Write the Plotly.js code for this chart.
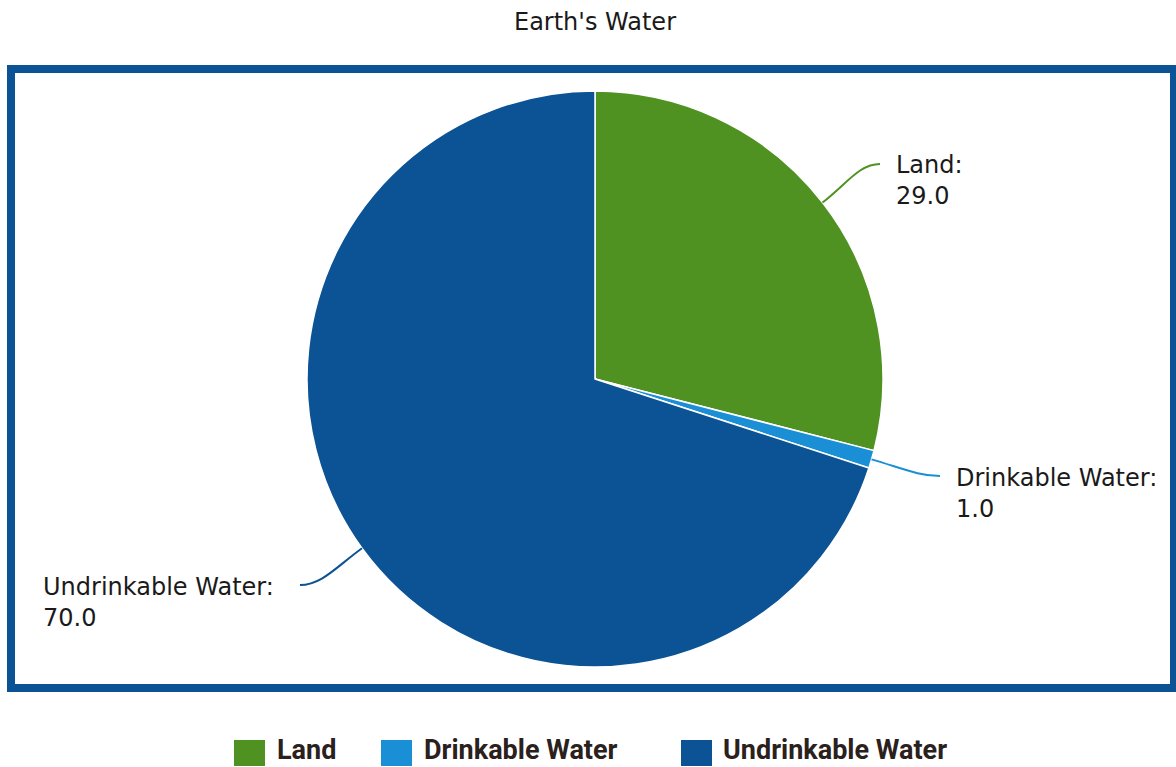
<!DOCTYPE html>
<html>
<head>
<meta charset="utf-8">
<script src="https://cdn.plot.ly/plotly-3.0.1.min.js"></script>
<style>html,body{margin:0;padding:0;background:#fff;}#chart{width:1176px;height:767px;}</style>
</head>
<body>
<div id="chart"></div>
<script>
// ---- data ----
const categories = ["Land", "Drinkable Water", "Undrinkable Water"];
const values = [29.0, 1.0, 70.0];
const sliceColors = ["#4f9222", "#1a8fd6", "#0b5394"];
const chartTitle = "Earth's Water";

// ---- layout constants (pixels) ----
const W = 1176, H = 767;
const cx = 595, cy = 379, R = 288;
// leader-line end points and label placement (style/position only)
const labelEnds = [[880, 164], [940, 476], [300, 585]];
const labelSide = ["left", "left", "right"];
const legendPos = [[234, 278], [381, 425], [681, 724]];
const legendY = 753;

const X = px => px / W;
const Y = py => 1 - py / H;

const total = values.reduce((a, b) => a + b, 0);
const shapes = [];
const annotations = [];

// frame around chart area
shapes.push({type: "rect", xref: "paper", yref: "paper",
  x0: X(11), x1: X(1174), y0: Y(69), y1: Y(688),
  line: {color: "#0b5394", width: 8}, fillcolor: "rgba(0,0,0,0)", layer: "below"});

// leader lines + labels derived from slice angles
let cum = 0;
values.forEach((v, i) => {
  const mid = (cum + v / 2) / total * 2 * Math.PI; // clockwise from 12 o'clock
  cum += v;
  const dx = Math.sin(mid), dy = -Math.cos(mid);
  const sx = cx + R * dx, sy = cy + R * dy;
  const [ex, ey] = labelEnds[i];
  const hdir = ex > sx ? 1 : -1;
  const dist = Math.hypot(ex - sx, ey - sy);
  const c1x = sx + dx * dist * 0.45, c1y = sy + dy * dist * 0.45;
  const c2x = ex - hdir * dist * 0.3, c2y = ey;
  const path = `M${X(sx)},${Y(sy)} C${X(c1x)},${Y(c1y)} ${X(c2x)},${Y(c2y)} ${X(ex)},${Y(ey)}`;
  shapes.push({type: "path", xref: "paper", yref: "paper", path: path,
    line: {color: sliceColors[i], width: 2}});
  const left = labelSide[i] === "left";
  annotations.push({xref: "paper", yref: "paper",
    x: X(left ? ex + 14 : ex - 24), y: Y(ey + 17),
    xanchor: left ? "left" : "right", yanchor: "middle", align: "left",
    showarrow: false,
    text: categories[i] + ":<br>" + v.toFixed(1),
    font: {family: "DejaVu Sans", size: 24, color: "#1a1a1a"}});
});

// custom legend
categories.forEach((c, i) => {
  const [sqx, tx] = legendPos[i];
  shapes.push({type: "rect", xref: "paper", yref: "paper",
    x0: X(sqx), x1: X(sqx + 31), y0: Y(legendY + 13), y1: Y(legendY - 13),
    fillcolor: sliceColors[i], line: {width: 0}});
  annotations.push({xref: "paper", yref: "paper", x: X(tx - 2), y: 0,
    xanchor: "left", yanchor: "bottom", showarrow: false, text: "<b>" + c + "</b>",
    borderpad: 0,
    font: {family: "Liberation Sans Narrow, Roboto, sans-serif", size: 27, color: "#2b211c"}});
});

const data = [{
  type: "pie",
  labels: categories,
  values: values,
  sort: false,
  direction: "clockwise",
  rotation: 0,
  textinfo: "none",
  hoverinfo: "label+value",
  marker: {colors: sliceColors, line: {color: "#ffffff", width: 1.5}},
  domain: {x: [X(cx - R), X(cx + R)], y: [Y(cy + R), Y(cy - R)]},
  showlegend: false
}];

const layout = {
  width: W, height: H,
  margin: {l: 0, r: 0, t: 0, b: 0},
  paper_bgcolor: "#ffffff",
  showlegend: false,
  title: {text: chartTitle, x: X(595), xanchor: "center", y: Y(22), yanchor: "middle",
    font: {family: "DejaVu Sans", size: 24, color: "#1a1a1a"}},
  shapes: shapes,
  annotations: annotations
};

Plotly.newPlot("chart", data, layout, {displayModeBar: false, staticPlot: true});
</script>
</body>
</html>
